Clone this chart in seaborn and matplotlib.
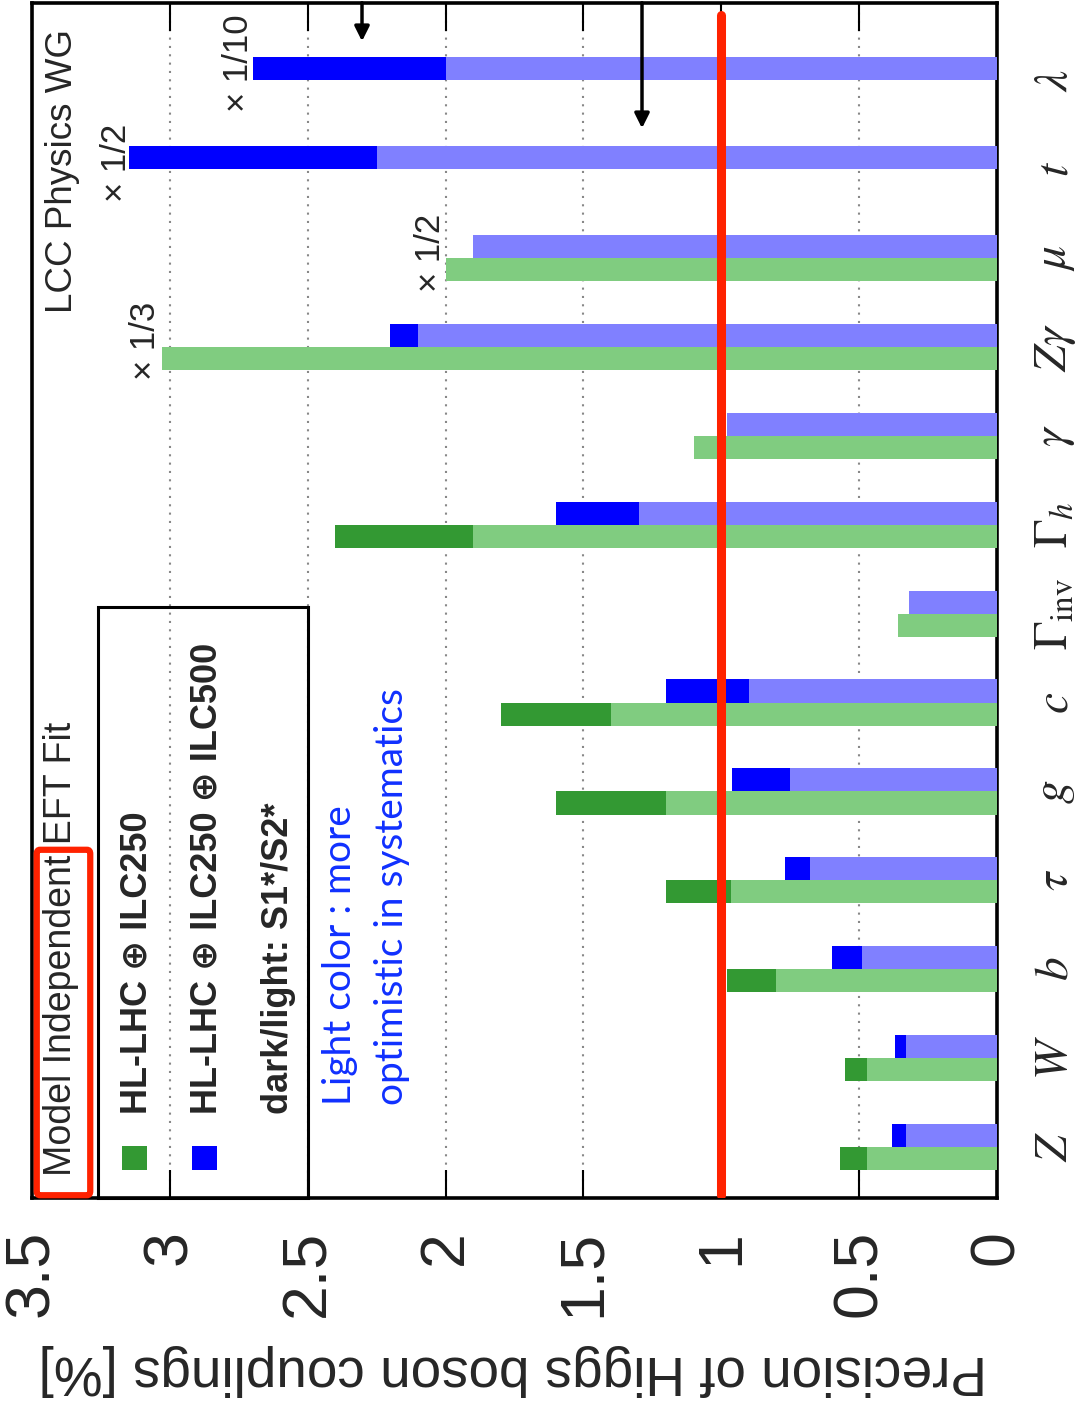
import numpy as np
import pandas as pd
import matplotlib
matplotlib.use("Agg")
import matplotlib.pyplot as plt
import seaborn as sns
from matplotlib.patches import Rectangle, FancyBboxPatch

# ---------------- data ----------------
categories = [r'$Z$', r'$W$', r'$b$', r'$\tau$', r'$g$', r'$c$', r'$\Gamma_{\rm inv}$',
              r'$\Gamma_h$', r'$\gamma$', r'$Z\gamma$', r'$\mu$', r'$t$', r'$\lambda$']
series = ['HL-LHC ⊕ ILC250', 'HL-LHC ⊕ ILC250 ⊕ ILC500']
# light = optimistic systematics (S2*), dark = S1*
ilc250_light = [0.47, 0.47, 0.80, 0.965, 1.20, 1.40, 0.36, 1.90, 1.10, 3.03, 2.00, np.nan, np.nan]
ilc250_dark = [0.57, 0.55, 0.98, 1.20, 1.60, 1.80, 0.36, 2.40, 1.10, 3.03, 2.00, np.nan, np.nan]
ilc500_light = [0.33, 0.33, 0.49, 0.68, 0.75, 0.90, 0.32, 1.30, 0.98, 2.10, 1.90, 2.25, 2.00]
ilc500_dark = [0.38, 0.37, 0.60, 0.77, 0.96, 1.20, 0.32, 1.60, 0.98, 2.20, 1.90, 3.15, 2.70]
value_ticks = [0, 0.5, 1, 1.5, 2, 2.5, 3, 3.5]
value_ticklabels = ['0', '0.5', '1', '1.5', '2', '2.5', '3', '3.5']
scale_notes = ['× 1/3', '× 1/2', '× 1/2', '× 1/10']
reference_level = 1.0

W, H = 1080, 1405
sns.set_theme(style="white")
plt.rcParams['font.family'] = ['Liberation Sans', 'DejaVu Sans']
plt.rcParams['mathtext.fontset'] = 'stix'

fig = plt.figure(figsize=(W / 100, H / 100), dpi=100)
fig.patch.set_facecolor('white')


def fx(x):
    return x / W


def fy(y):
    return 1 - y / H


ax = fig.add_axes([fx(32), fy(1198), (997 - 32) / W, (1198 - 3) / H])

dark_df = pd.DataFrame({
    'cat': categories * 2,
    'series': [series[0]] * len(categories) + [series[1]] * len(categories),
    'value': ilc250_dark + ilc500_dark,
})
light_df = pd.DataFrame({
    'cat': categories * 2,
    'series': [series[0]] * len(categories) + [series[1]] * len(categories),
    'value': ilc250_light + ilc500_light,
})

sns.barplot(data=dark_df, x='value', y='cat', hue='series', order=categories,
            hue_order=series, palette=['#339933', '#0000ff'], width=0.52,
            orient='h', errorbar=None, saturation=1, legend=False, ax=ax, zorder=2,
            linewidth=0)
sns.barplot(data=light_df, x='value', y='cat', hue='series', order=categories,
            hue_order=series, palette=['#80cc80', '#8080ff'], width=0.52,
            orient='h', errorbar=None, saturation=1, legend=False, ax=ax, zorder=3,
            linewidth=0)

ax.set_xlim(3.5, 0)
ax.set_ylim(-0.574, 12.87)
ax.set_xlabel('')
ax.set_ylabel('')
ax.set_axisbelow(True)

ax.set_xticks(value_ticks)
ax.set_xticklabels(value_ticklabels)
ax.tick_params(axis='x', direction='in', top=True, bottom=True, length=20, width=1.5,
               color='black', labelsize=45, labelrotation=90, pad=23)
for lab in ax.get_xticklabels():
    lab.set_ha('center')
    lab.set_va('top')
ax.xaxis.grid(True, linestyle=(0, (1, 3)), color='#888888', lw=1.5)
ax.yaxis.grid(False)

ax.yaxis.tick_right()
ax.tick_params(axis='y', length=0, labelsize=34, labelrotation=90, pad=26,
               left=False, right=True)
for lab in ax.get_yticklabels():
    lab.set_va('center')
    lab.set_ha('left')

for s in ax.spines.values():
    s.set_linewidth(2.6)
    s.set_color('black')

# red reference line
ax.plot([reference_level, reference_level], [-0.54, 12.73], color='#ff2200', lw=6.5,
        solid_capstyle='round', zorder=5)

# axis title (rotated with the chart)
fig.text(fx(513), fy(1370), 'Precision of Higgs boson couplings [%]', rotation=180,
         ha='center', va='center', fontsize=39.5)

# legend box
fig.patches.append(Rectangle((fx(98), fy(1198)), (308 - 98) / W, (1198 - 607) / H,
                             transform=fig.transFigure, fill=False, ec='black', lw=2.2,
                             zorder=6))
fig.patches.append(Rectangle((fx(122), fy(1170)), 25 / W, 24 / H, transform=fig.transFigure,
                             fc='#339933', ec='none', zorder=6))
fig.patches.append(Rectangle((fx(192), fy(1170)), 25 / W, 24 / H, transform=fig.transFigure,
                             fc='#0000ff', ec='none', zorder=6))
fig.text(fx(61), fy(1176), 'Model Independent EFT Fit', rotation=90, ha='center',
         va='bottom', fontsize=27)
fig.text(fx(137), fy(1114), series[0], rotation=90, ha='center', va='bottom',
         fontsize=26, fontweight='bold')
fig.text(fx(207), fy(1114), series[1], rotation=90, ha='center', va='bottom',
         fontsize=26, fontweight='bold')
fig.text(fx(278), fy(1114), 'dark/light: S1*/S2*', rotation=90, ha='center', va='bottom',
         fontsize=26, fontweight='bold')

fig.text(fx(62), fy(313), 'LCC Physics WG', rotation=90, ha='center', va='bottom',
         fontsize=26.5)

# scale notes
note_pos = [(145, 341), (430, 253), (116, 163), (239, 63)]
for txt, (px, py) in zip(scale_notes, note_pos):
    fig.text(fx(px), fy(py), txt, rotation=90, ha='center', va='center', fontsize=25)

# blue comment
fig.text(fx(340), fy(1105), 'Light color : more', rotation=90, ha='center', va='bottom',
         fontsize=28, color='#1030ff', family=['Lato', 'DejaVu Sans'])
fig.text(fx(392), fy(1105), 'optimistic in systematics', rotation=90, ha='center',
         va='bottom', fontsize=28, color='#1030ff', family=['Lato', 'DejaVu Sans'])

# red highlight box
fig.patches.append(FancyBboxPatch((fx(40), fy(1191)), (87 - 40) / W, (1191 - 854) / H,
                                  boxstyle='round,pad=0.003', transform=fig.transFigure,
                                  fill=False, ec='#ff2200', lw=4.5, zorder=7))

# arrows
for (x0, y0, y1) in [(362, 0, 44), (642, 0, 131)]:
    fig.add_artist(matplotlib.patches.FancyArrowPatch(
        (fx(x0), fy(y0)), (fx(x0), fy(y1)), transform=fig.transFigure,
        arrowstyle='-|>', mutation_scale=22, color='black', lw=2.5, zorder=8))

fig.savefig('out.png', dpi=100)
